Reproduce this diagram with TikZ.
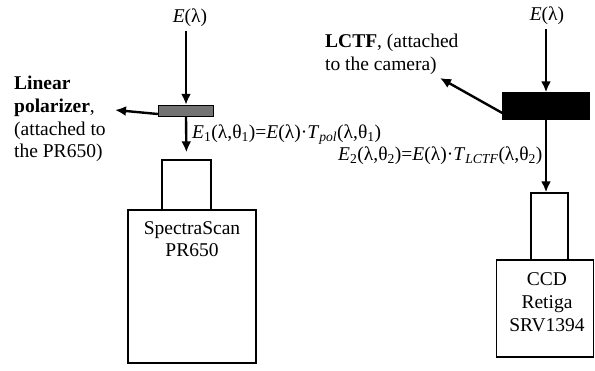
\documentclass[tikz,border=0pt]{standalone}
\usepackage{fontspec}
\setmainfont{Liberation Serif}
\usetikzlibrary{arrows.meta}

\tikzset{
  box/.style={draw, line width=1.4pt, inner sep=0pt},
  ray/.style={draw, line width=2.4pt, -{Latex[length=11pt,width=10pt]}},
  lbl/.style={inner sep=0pt, align=left, font=\fontsize{19.5}{22.7}\selectfont},
}

\newcommand{\Elam}{\textit{E}(λ)}

\begin{document}
\begin{tikzpicture}[x=1pt, y=-1pt]

\useasboundingbox (0,0) rectangle (595,370);

% Left side: polarizer and PR650
\node (srcL) at (190,18) [lbl] {\Elam};
\node (pol) at (186,111) [box, fill=black!55, minimum width=55pt, minimum height=11pt] {};
\node (specHead) at (186.5,185) [box, minimum width=49pt, minimum height=50pt] {};
\node (specBody) at (192,286.5) [box, minimum width=128pt, minimum height=153pt] {};
\node (specName) at (192,239) [lbl, align=center] {SpectraScan\\PR650};

\node (polLabel) at (14,119) [lbl, anchor=west] {\textbf{Linear}\\\textbf{polarizer},\\(attached to\\the PR650)};
\coordinate (polTip) at (115,110);

\node (eOne) at (192,135) [lbl, anchor=west]
  {\textit{E}\textsubscript{1}(λ,θ\textsubscript{1})=\Elam·\textit{T}\textsubscript{\textit{pol}}(λ,θ\textsubscript{1})};

\draw [ray] (srcL.south -| pol.north) ++(0,-4pt) -- (pol.north);
\draw [ray, shorten >=7pt] (pol.south) -- (specHead.north);
\draw [ray] ([yshift=-3pt]pol.west) -- (polTip);

% Right side: LCTF and camera
\node (srcR) at (547,16) [lbl] {\Elam};
\node (lctf) at (546,106) [box, fill=black, minimum width=86pt, minimum height=26pt] {};
\node (camHead) at (549.5,226.5) [box, minimum width=37pt, minimum height=67pt] {};
\node (camBody) at (545,308.5) [box, minimum width=97pt, minimum height=97pt] {};
\node (camName) at (547,302) [lbl, align=center] {CCD\\Retiga\\SRV1394};

\node (lctfLabel) at (325,54) [lbl, anchor=west] {\textbf{LCTF}, (attached\\to the camera)};
\coordinate (lctfTip) at (440,78);

\node (eTwo) at (338,156) [lbl, anchor=west]
  {\textit{E}\textsubscript{2}(λ,θ\textsubscript{2})=\Elam·\textit{T}\textsubscript{\textit{LCTF}}(λ,θ\textsubscript{2})};

\draw [ray] (srcR.south -| lctf.north) ++(0,-4pt) -- (lctf.north);
\draw [ray] (lctf.south) -- (lctf.south |- camHead.north);
\draw [ray] ([yshift=-7pt]lctf.west) -- (lctfTip);

\end{tikzpicture}
\end{document}
